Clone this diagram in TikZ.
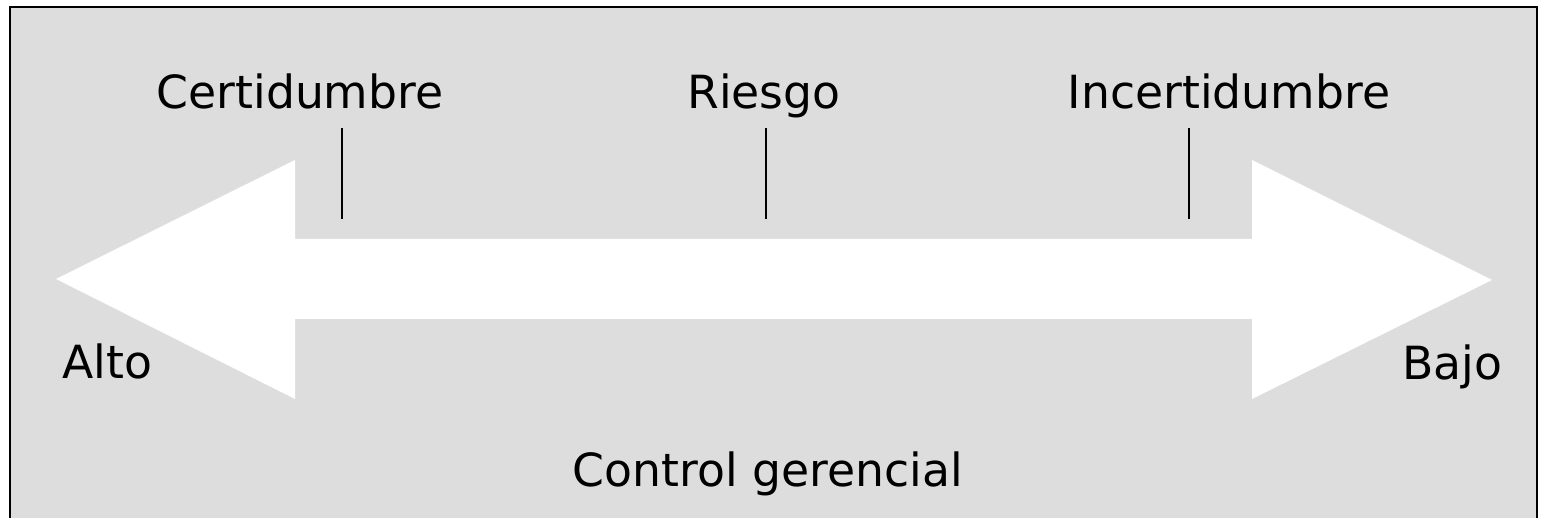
\documentclass[tikz,border=0pt]{standalone}
\usepackage{fontspec}
\setmainfont{DejaVu Sans}
\usepackage{tikz}

\definecolor{fondo}{RGB}{221,221,221}
\tikzset{etiq/.style={inner sep=0pt,font=\fontsize{13}{15}\selectfont}}

\begin{document}
\begin{tikzpicture}
\useasboundingbox (0,0) rectangle (15.42,5.18);
\clip (0,0) rectangle (15.42,5.18);
\draw[line width=0.6pt,fill=fondo] (0.10,-0.2) rectangle (15.37,5.11);

%flecha doble
\fill[white] (0.56,2.39) -- (2.95,3.58) -- (2.95,2.79) -- (12.52,2.79)
  -- (12.52,3.58) -- (14.92,2.38) -- (12.52,1.19) -- (12.52,1.99)
  -- (2.95,1.99) -- (2.95,1.19) -- cycle;

\draw (3.42,3.90) -- (3.42,2.99);
\draw (7.66,3.90) -- (7.66,2.99);
\draw (11.89,3.90) -- (11.89,2.99);

\node[etiq,anchor=base] (cert) at (3.00,4.09) {Certidumbre};
\node[etiq,anchor=base] (ries) at (7.64,4.09) {Riesgo};
\node[etiq,anchor=base] (incert) at (12.29,4.09) {Incertidumbre};
\node[etiq,anchor=base west] (alto) at (0.62,1.39) {Alto};
\node[etiq,anchor=base east] (bajo) at (15.03,1.38) {Bajo};
\node[etiq,anchor=base] (control) at (7.68,0.31) {Control gerencial};
\end{tikzpicture}
\end{document}
